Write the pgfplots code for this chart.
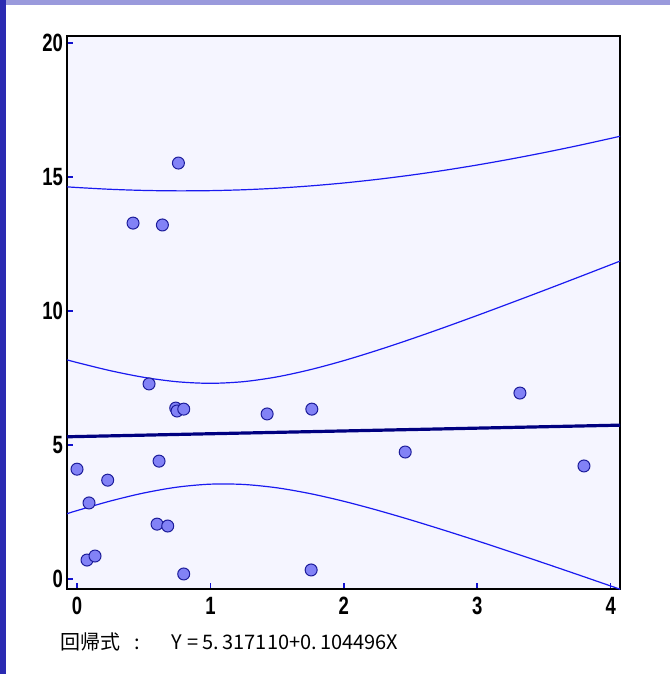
\documentclass[border=0pt]{standalone}
\usepackage{pgfplots}
\pgfplotsset{compat=1.18}
\usepackage{fontspec}
\setmainfont{Liberation Sans}
\newfontfamily\tickfont[FakeStretch=0.74]{Liberation Sans Bold}
\newfontfamily\cjk{Noto Sans CJK JP}
\definecolor{plotbg}{HTML}{F5F5FF}
\definecolor{leftstrip}{HTML}{2A2AB2}
\definecolor{topstrip}{HTML}{9A9ADC}
\definecolor{bandblue}{HTML}{1A1AF0}
\definecolor{navy}{HTML}{000080}
\definecolor{mfill}{HTML}{8282F6}
\definecolor{medge}{HTML}{1C1C9A}
\pgfplotstableread{
x y
0.000 4.10
0.090 2.84
0.075 0.71
0.135 0.86
0.230 3.69
0.420 13.28
0.540 7.28
0.600 2.05
0.615 4.40
0.640 13.21
0.680 1.98
0.740 6.38
0.750 6.27
0.760 15.52
0.800 6.34
0.800 0.19
1.425 6.16
1.755 0.34
1.760 6.34
2.460 4.74
3.320 6.94
3.800 4.22
}\pts
\pgfplotstableread{
x fit cu cl pu
-0.075 5.309 8.179 2.439 14.633
0.00 5.317 8.079 2.555 14.608
0.25 5.343 7.774 2.912 14.541
0.50 5.369 7.527 3.211 14.499
0.75 5.396 7.362 3.430 14.483
1.00 5.422 7.303 3.541 14.491
1.25 5.448 7.366 3.530 14.524
1.50 5.474 7.544 3.404 14.583
1.75 5.500 7.814 3.186 14.668
2.00 5.526 8.150 2.902 14.777
2.25 5.552 8.533 2.571 14.911
2.50 5.578 8.947 2.209 15.068
2.75 5.604 9.383 1.825 15.247
3.00 5.631 9.835 1.427 15.448
3.25 5.657 10.298 1.016 15.669
3.50 5.683 10.768 0.598 15.909
3.75 5.709 11.245 0.173 16.166
4.00 5.735 11.727 -0.257 16.440
4.075 5.743 11.872 -0.386 16.526
}\band
\begin{document}
\begin{tikzpicture}
% background panel
\fill[white] (-33.5pt,-42.5pt) rectangle (301.5pt,294.5pt);
\fill[topstrip] (-33.5pt,292pt) rectangle (301.5pt,294.5pt);
\fill[leftstrip] (-33.5pt,-42.5pt) rectangle (-30.5pt,294.5pt);
\useasboundingbox (-33.5pt,-42.5pt) rectangle (301.5pt,294.5pt);
\begin{axis}[
  at={(0pt,0pt)}, anchor=south west,
  scale only axis, width=276.5pt, height=276.5pt,
  xmin=-0.075, xmax=4.07, ymin=-0.37, ymax=20.26,
  xtick={0,1,2,3,4}, ytick={0,5,10,15,20},
  xtick pos=left, ytick pos=left, tick align=inside,
  major tick length=2.8pt,
  every tick/.style={bandblue!70!navy, line width=0.8pt},
  axis line style={black, line width=1pt},
  axis background/.style={fill=plotbg},
  tick label style={font=\tickfont\fontsize{12.5}{14}\selectfont},
  /pgf/number format/assume math mode=true,
  xticklabel style={yshift=-0.5pt},
  yticklabel style={xshift=1.5pt},
]
\addplot[bandblue, line width=0.6pt, smooth] table[x=x,y=pu] {\band};
\addplot[bandblue, line width=0.6pt, smooth] table[x=x,y=cu] {\band};
\addplot[bandblue, line width=0.6pt, smooth] table[x=x,y=cl] {\band};
\addplot[navy, line width=1.6pt] table[x=x,y=fit] {\band};
\addplot[only marks, mark=*, mark size=3pt,
  mark options={fill=mfill, draw=medge, line width=0.5pt}] table[x=x,y=y] {\pts};
\end{axis}
\node[anchor=west, inner sep=0pt] at (-3.5pt,-26.5pt)
  {\cjk\fontsize{10}{12}\selectfont 回帰式\hspace{0.7em}:\hspace{1.6em}Y = 5.\,317110+0.\,104496X};
\end{tikzpicture}
\end{document}
